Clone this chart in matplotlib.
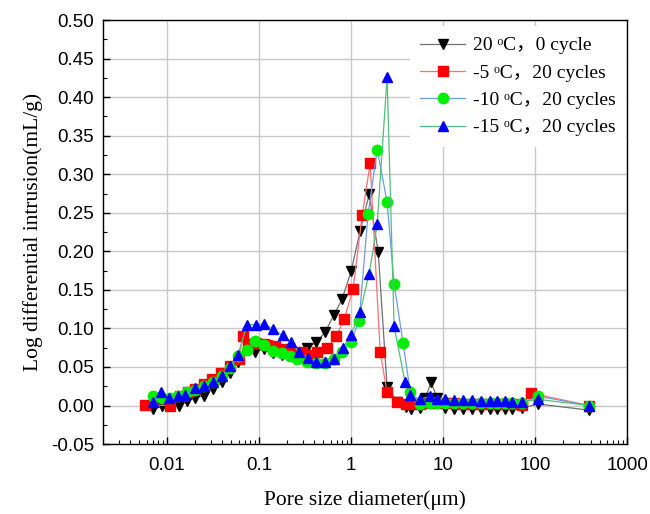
import matplotlib
matplotlib.use("Agg")
import matplotlib.pyplot as plt
from matplotlib.ticker import FixedLocator, FuncFormatter, MultipleLocator, LogLocator, NullFormatter

# ---------------- data ----------------
labels = ["20 ᵒC，0 cycle", "-5 ᵒC，20 cycles", "-10 ᵒC，20 cycles", "-15 ᵒC，20 cycles"]

x_black = [0.0071, 0.0088, 0.0108, 0.0135, 0.0165, 0.0203, 0.0252, 0.0316, 0.0397, 0.0484,
           0.059, 0.074, 0.090, 0.113, 0.142, 0.178, 0.217, 0.272, 0.333, 0.417, 0.522,
           0.653, 0.797, 1.0, 1.25, 1.57, 1.97, 2.46, 3.16, 3.9, 4.5, 5.6, 6.4, 7.4, 8.6,
           10.5, 13.1, 16.5, 20.6, 25.9, 32.4, 38.6, 47.2, 56, 71, 108, 386]
y_black = [-0.005, -0.001, 0.001, -0.001, 0.006, 0.010, 0.013, 0.022, 0.030, 0.042,
           0.056, 0.080, 0.070, 0.073, 0.068, 0.066, 0.065, 0.066, 0.075, 0.082, 0.095,
           0.118, 0.138, 0.174, 0.226, 0.274, 0.199, 0.024, 0.005, -0.002, -0.004, -0.003, 0.010, 0.030, 0.010,
           -0.003, -0.004, -0.004, -0.004, -0.004, -0.004, -0.004, -0.004, -0.004, -0.003, 0.002, -0.006]

x_red = [0.0057, 0.0108, 0.0139, 0.017, 0.0203, 0.025, 0.031, 0.039, 0.048, 0.060,
         0.067, 0.076, 0.092, 0.113, 0.122, 0.15, 0.19, 0.23, 0.29, 0.35, 0.43, 0.55,
         0.69, 0.84, 1.05, 1.32, 1.61, 2.07, 2.46, 3.16, 3.9, 4.5, 5.6, 7.2, 8.6,
         10.5, 13.1, 16.5, 20.6, 25.9, 32.4, 38.6, 47.2, 56, 71, 90, 386]
y_red = [0.001, 0.000, 0.012, 0.018, 0.022, 0.028, 0.034, 0.042, 0.051, 0.061,
         0.090, 0.079, 0.081, 0.080, 0.079, 0.077, 0.073, 0.070, 0.069, 0.066, 0.070, 0.075,
         0.090, 0.112, 0.151, 0.247, 0.314, 0.069, 0.017, 0.004, 0.002, 0.002, 0.002, 0.003, 0.003,
         0.003, 0.003, 0.002, 0.002, 0.002, 0.002, 0.002, 0.002, 0.002, 0.001, 0.016, 0.000]

x_green = [0.0071, 0.0088, 0.0108, 0.0132, 0.0165, 0.0203, 0.0252, 0.0316, 0.0397, 0.0484,
           0.059, 0.074, 0.090, 0.113, 0.142, 0.178, 0.217, 0.26, 0.33, 0.42, 0.52,
           0.65, 0.80, 1.0, 1.22, 1.53, 1.92, 2.46, 2.93, 3.67, 4.4, 5.6, 7.2, 8.6,
           10.5, 13.1, 16.5, 20.6, 25.9, 32.4, 38.6, 47.2, 56, 71, 108, 386]
y_green = [0.012, 0.010, 0.010, 0.012, 0.017, 0.020, 0.026, 0.030, 0.038, 0.049,
           0.064, 0.072, 0.084, 0.078, 0.071, 0.068, 0.064, 0.061, 0.057, 0.055, 0.055,
           0.060, 0.069, 0.083, 0.110, 0.249, 0.332, 0.264, 0.158, 0.081, 0.017, 0.002, 0.003, 0.003,
           0.003, 0.003, 0.003, 0.003, 0.003, 0.003, 0.003, 0.003, 0.003, 0.003, 0.012, 0.000]

x_blue = [0.0071, 0.0086, 0.0105, 0.0132, 0.0157, 0.0203, 0.0252, 0.0315, 0.0397, 0.0484,
          0.059, 0.074, 0.093, 0.114, 0.142, 0.18, 0.223, 0.27, 0.34, 0.42, 0.52,
          0.65, 0.82, 1.0, 1.25, 1.57, 1.92, 2.46, 2.93, 3.86, 4.4, 5.6, 7.2, 8.6,
          10.5, 13.1, 16.5, 20.6, 25.9, 32.4, 38.6, 47.2, 56, 71, 108, 386]
y_blue = [0.004, 0.017, 0.010, 0.012, 0.014, 0.023, 0.025, 0.031, 0.038, 0.051,
          0.066, 0.105, 0.105, 0.106, 0.099, 0.091, 0.082, 0.069, 0.062, 0.056, 0.057,
          0.061, 0.074, 0.092, 0.121, 0.171, 0.235, 0.426, 0.103, 0.030, 0.014, 0.008, 0.012, 0.009,
          0.008, 0.007, 0.007, 0.007, 0.006, 0.006, 0.006, 0.006, 0.005, 0.005, 0.008, 0.000]

x_ticks = [0.01, 0.1, 1, 10, 100, 1000]
x_ticklabels = ["0.01", "0.1", "1", "10", "100", "1000"]

# ---------------- plot ----------------
serif = ["Liberation Serif", "DejaVu Serif", "Noto Sans CJK SC"]
fig = plt.figure(figsize=(6.5, 5.14), dpi=100)
ax = fig.add_axes([0.158, 0.136, 0.807, 0.825])

series = [
    (x_black, y_black, "v", "black", "#707070"),
    (x_red, y_red, "s", "red", "#ff7070"),
    (x_green, y_green, "o", "#00ee00", "#6f9be8"),
    (x_blue, y_blue, "^", "#0000ff", "#4fc07a"),
]
for (xs, ys, mk, mc, lc), lab in zip(series, labels):
    ax.plot(xs, ys, color=lc, lw=0.9, marker=mk, ms=7.5, mfc=mc, mec=mc, label=lab, zorder=3)

ax.set_xscale("log")
ax.set_xlim(0.002, 1000)
ax.set_ylim(-0.05, 0.50)
ax.xaxis.set_major_locator(FixedLocator(x_ticks))
ax.xaxis.set_major_formatter(FuncFormatter(lambda v, p: x_ticklabels[x_ticks.index(v)] if v in x_ticks else ""))
ax.xaxis.set_minor_locator(LogLocator(base=10, subs=range(2, 10), numticks=20))
ax.xaxis.set_minor_formatter(NullFormatter())
ax.yaxis.set_major_locator(MultipleLocator(0.05))
ax.yaxis.set_minor_locator(MultipleLocator(0.025))
ax.yaxis.set_major_formatter(FuncFormatter(lambda v, p: f"{v:.2f}"))

ax.grid(True, which="major", color="#c8c8c8", lw=1.0, zorder=0)
ax.set_axisbelow(True)
ax.tick_params(which="both", direction="in", top=False, right=False)
ax.tick_params(which="major", length=5, width=1, labelsize=13.5, pad=9)
ax.tick_params(axis="y", which="major", pad=6)
ax.tick_params(which="minor", length=3, width=0.8)
for lbl in ax.get_xticklabels() + ax.get_yticklabels():
    lbl.set_family(["Liberation Sans", "DejaVu Sans"])
for s in ax.spines.values():
    s.set_color("black")
    s.set_linewidth(1.0)

ax.set_xlabel("Pore size diameter(μm)", family=serif, fontsize=15.5, labelpad=12)
ax.set_ylabel("Log differential intrusion(mL/g)", family=serif, fontsize=15.5, labelpad=6)

leg = ax.legend(loc="upper right", bbox_to_anchor=(1.0, 0.988),
                prop={"family": serif, "size": 14}, frameon=True,
                fancybox=False, edgecolor="none", facecolor="white", framealpha=1,
                handlelength=2.3, handletextpad=0.4, labelspacing=0.5, borderaxespad=0.05,
                borderpad=0.55)

fig.savefig("out.png", dpi=100)
